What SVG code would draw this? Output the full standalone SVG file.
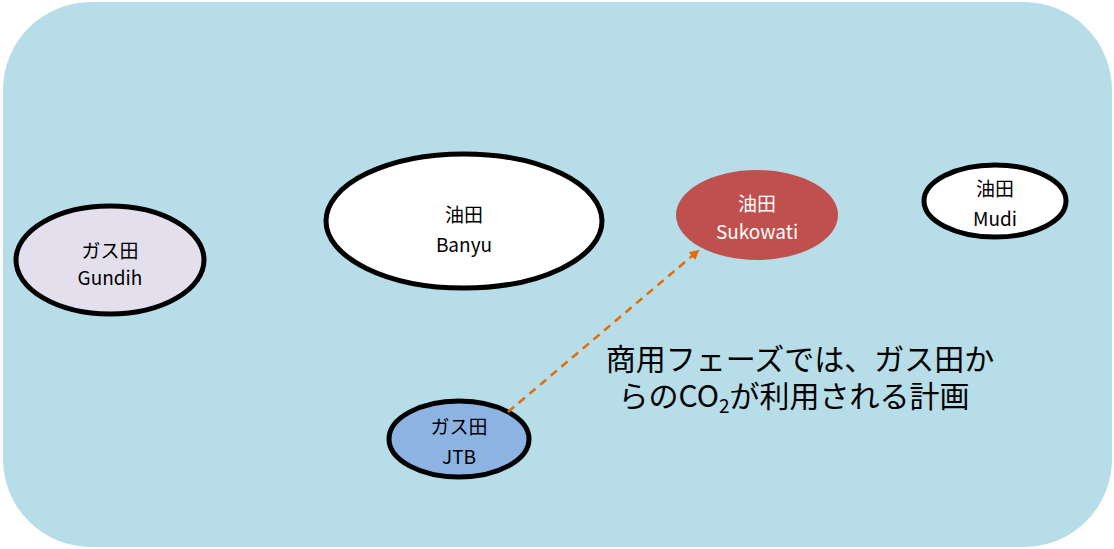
<svg xmlns="http://www.w3.org/2000/svg" width="1114" height="549" viewBox="0 0 1114 549">
<style>
.n{stroke:#000;stroke-width:5}
.t{font-family:"Noto Sans CJK JP","Liberation Sans",sans-serif;font-size:19px;text-anchor:middle;fill:#000}
.w{fill:#fff}
.c{font-family:"Noto Sans CJK JP","Liberation Sans",sans-serif;font-size:30px;text-anchor:middle;fill:#000}
</style>
<defs>
<marker id="ah" viewBox="0 0 10 10" refX="8" refY="5" markerWidth="4" markerHeight="4" orient="auto" markerUnits="strokeWidth">
<path d="M0,0 L10,5 L0,10 z" fill="#E36C09"/>
</marker>
</defs>
<rect x="3" y="2" width="1109" height="545" rx="88" ry="88" fill="#B7DDE8"/>
<g id="gundih"><ellipse class="n" cx="110" cy="260" rx="94" ry="54" fill="#E4DFEC"/><text class="t" x="110" y="258">ガス田</text><text class="t" x="110" y="285">Gundih</text></g>
<g id="banyu"><ellipse class="n" cx="464" cy="221" rx="138" ry="67" fill="#fff"/><text class="t" x="464" y="222">油田</text><text class="t" x="464" y="252">Banyu</text></g>
<g id="sukowati"><ellipse cx="757" cy="215" rx="81" ry="45" fill="#C0504D"/><text class="t w" x="757" y="211">油田</text><text class="t w" x="757" y="239">Sukowati</text></g>
<g id="mudi"><ellipse class="n" cx="995" cy="201" rx="71" ry="36" fill="#fff"/><text class="t" x="995" y="196">油田</text><text class="t" x="995" y="226">Mudi</text></g>
<g id="jtb"><ellipse class="n" cx="459" cy="439" rx="70" ry="38" fill="#8DB3E2"/><text class="t" x="459" y="434">ガス田</text><text class="t" x="459" y="464">JTB</text></g>
<g id="connectors"><line x1="508" y1="412" x2="698" y2="251" stroke="#E36C09" stroke-width="2.5" stroke-dasharray="8,6" marker-end="url(#ah)"/></g>
<g id="caption"><text class="c"><tspan x="800" y="370">商用フェーズでは、ガス田か</tspan><tspan x="794" y="407">らのCO</tspan><tspan font-size="19" dy="6">2</tspan><tspan dy="-6">が利用される計画</tspan></text></g>
</svg>
